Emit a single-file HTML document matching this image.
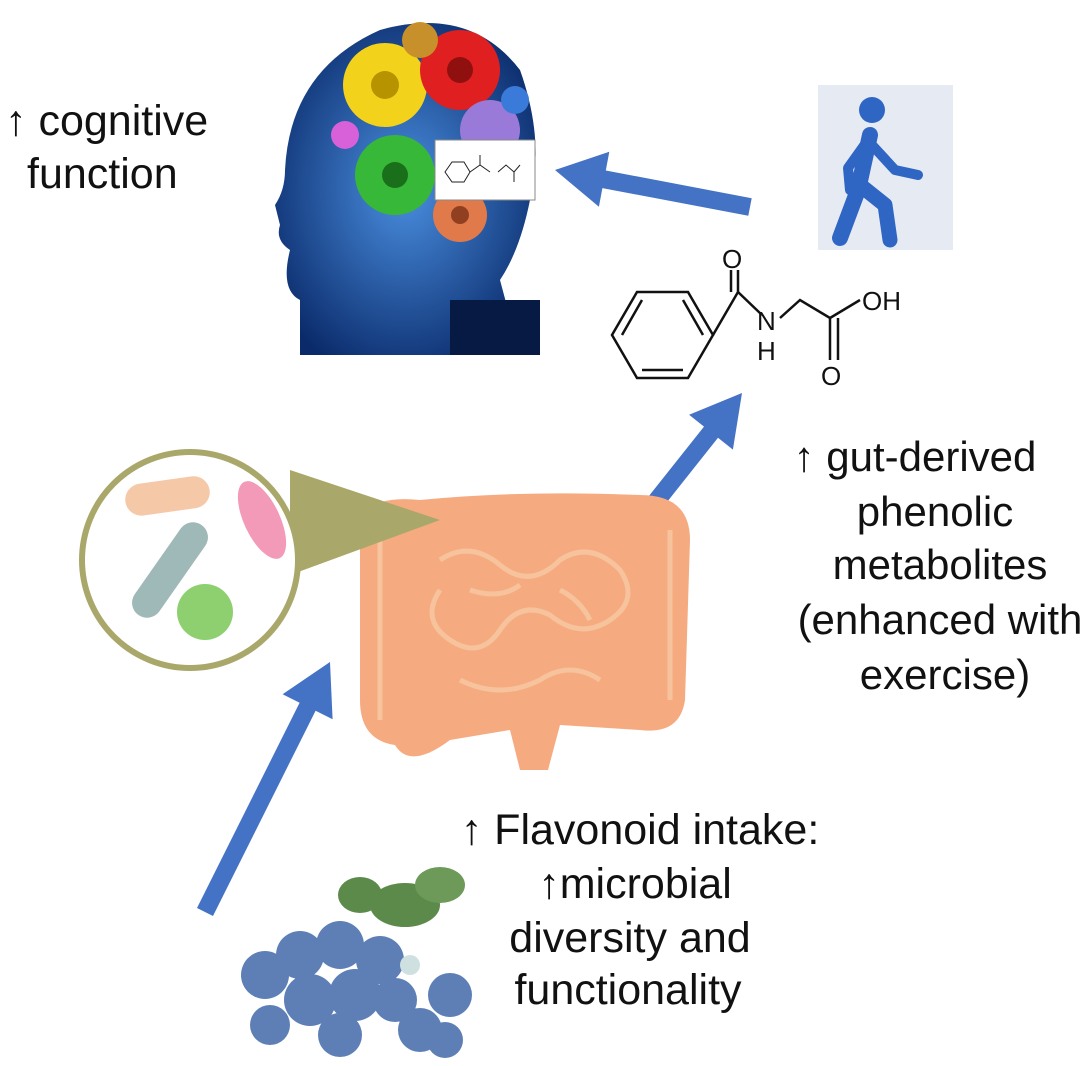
<!DOCTYPE html>
<html><head><meta charset="utf-8"><style>
html,body{margin:0;padding:0;background:#fff;}
svg{display:block;}
text{font-family:"Liberation Sans",sans-serif;}
</style></head><body>
<svg width="1080" height="1066" viewBox="0 0 1080 1066" xmlns="http://www.w3.org/2000/svg">
<defs>
<radialGradient id="hg" cx="0.5" cy="0.5" r="0.6"><stop offset="0" stop-color="#4a8fe0"/><stop offset="1" stop-color="#0a2a6a"/></radialGradient>
</defs>

<text x="5" y="135" font-size="43" fill="#111">↑ cognitive</text>
<text x="27" y="188" font-size="43" fill="#111">function</text>

<path d="M300,355 L300,300 Q280,290 290,250 Q275,240 280,225 L275,205 Q285,190 285,170 Q290,70 380,30 Q470,5 520,70 Q545,140 530,200 Q520,250 500,280 L520,355 Z" fill="url(#hg)"/>
<rect x="450" y="300" width="90" height="55" fill="#061a44"/>
<circle cx="385" cy="85" r="42" fill="#f2d21a"/><circle cx="385" cy="85" r="14" fill="#b89300"/>
<circle cx="460" cy="70" r="40" fill="#e02020"/><circle cx="460" cy="70" r="13" fill="#901010"/>
<circle cx="420" cy="40" r="18" fill="#c8902a"/>
<circle cx="490" cy="130" r="30" fill="#9a7ad8"/>
<circle cx="515" cy="100" r="14" fill="#3a7ad8"/>
<circle cx="345" cy="135" r="14" fill="#d860d8"/>
<circle cx="395" cy="175" r="40" fill="#38b838"/><circle cx="395" cy="175" r="13" fill="#1a701a"/>
<circle cx="460" cy="215" r="27" fill="#e07a4a"/><circle cx="460" cy="215" r="9" fill="#904020"/>
<rect x="435" y="140" width="100" height="60" fill="#fff" stroke="#888" stroke-width="1"/>
<g stroke="#222" stroke-width="1" fill="none"><polygon points="445,172 452,162 464,162 470,172 464,182 452,182"/><path d="M470,172 L480,165 L490,172 M480,165 L480,155 M498,172 L506,165 L514,172 M514,172 L520,165 M514,172 L514,182"/></g>

<rect x="818" y="85" width="135" height="165" fill="#e6ebf3"/>
<g fill="#2f66c4" stroke="#2f66c4" stroke-linecap="round" stroke-linejoin="round">
<circle cx="872" cy="110" r="13" stroke="none"/>
<path d="M870,135 L858,190 L840,238" stroke-width="16" fill="none"/>
<path d="M860,185 L885,205 L890,240" stroke-width="15" fill="none"/>
<path d="M868,140 L848,168 L850,190" stroke-width="10" fill="none"/>
<path d="M872,145 L895,170 L918,175" stroke-width="10" fill="none"/>
</g>

<g fill="#4472C4">
<polygon points="751.7,198.2 605.8,170.5 609.3,151.8 555,170 598.9,206.8 602.4,188.1 748.3,215.8"/>
<polygon points="607,577.6 718,437.8 732.9,449.6 742,393 689.1,414.8 704,426.6 593,566.4"/>
<polygon points="213,916 315.6,710.7 332.6,719.2 330,662 282.6,694.2 299.6,702.7 197,908"/>
</g>

<g stroke="#111" stroke-width="2.5" fill="none">
<polygon points="612,335 637,292 688,292 713,335 688,378 637,378"/>
<path d="M622,335 L642,300 M683,300 L703,335 M642,370 L683,370"/>
<path d="M713,335 L738,292 L762,315 M738,292 L738,270 M731,292 L731,270"/>
<path d="M780,318 L800,300 L830,318 L860,300 M830,318 L830,360 M838,318 L838,360"/>
</g>
<text x="722" y="268" font-size="26" fill="#111">O</text>
<text x="757" y="330" font-size="26" fill="#111">N</text>
<text x="757" y="360" font-size="26" fill="#111">H</text>
<text x="862" y="310" font-size="26" fill="#111">OH</text>
<text x="821" y="385" font-size="26" fill="#111">O</text>

<g font-size="42" fill="#111" text-anchor="middle">
<text x="915" y="471">↑ gut-derived</text>
<text x="935" y="526">phenolic</text>
<text x="940" y="579">metabolites</text>
<text x="940" y="634">(enhanced with</text>
<text x="945" y="689">exercise)</text>
</g>

<path d="M360,520 Q370,495 420,500 Q520,490 640,495 Q690,495 690,540 L685,700 Q680,735 640,730 L560,725 L548,770 L520,770 L510,730 L450,740 Q410,770 395,745 Q360,740 360,700 Z" fill="#f6aa80"/>
<g stroke="#f7c6a0" stroke-width="5" fill="none" opacity="0.9">
<path d="M440,560 Q470,540 500,565 Q530,590 560,560 Q590,540 620,570 Q640,600 610,620 Q580,640 550,615 Q520,600 500,630 Q480,660 450,640 Q420,620 440,590"/>
<path d="M470,590 Q500,600 520,585 M560,590 Q580,600 590,620 M460,680 Q500,700 540,680 Q570,660 600,680"/>
<path d="M380,530 L380,720 M670,530 L670,700"/>
</g>

<polygon points="290,470 440,520 290,575" fill="#a9a86a"/>
<circle cx="190" cy="560" r="108" fill="#fff" stroke="#a9a86a" stroke-width="6"/>
<rect x="125" y="480" width="85" height="32" rx="16" fill="#f5c8a8" transform="rotate(-8 167 496)"/>
<rect x="115" y="555" width="110" height="30" rx="15" fill="#9fb8b8" transform="rotate(-55 170 570)"/>
<ellipse cx="262" cy="520" rx="18" ry="42" fill="#f39ab8" transform="rotate(-25 262 520)"/>
<circle cx="205" cy="612" r="28" fill="#8ed070"/>

<g font-size="43" fill="#111" text-anchor="middle">
<text x="640" y="844">↑ Flavonoid intake:</text>
<text x="635" y="898">↑microbial</text>
<text x="630" y="952">diversity and</text>
<text x="628" y="1004">functionality</text>
</g>

<g>
<ellipse cx="405" cy="905" rx="35" ry="22" fill="#5b8a4a"/>
<ellipse cx="440" cy="885" rx="25" ry="18" fill="#6d9a58"/>
<ellipse cx="360" cy="895" rx="22" ry="18" fill="#5b8a4a"/>
<g fill="#5d7fb6">
<circle cx="265" cy="975" r="24"/><circle cx="300" cy="955" r="24"/><circle cx="340" cy="945" r="24"/>
<circle cx="380" cy="960" r="24"/><circle cx="310" cy="1000" r="26"/><circle cx="355" cy="995" r="26"/>
<circle cx="395" cy="1000" r="22"/><circle cx="270" cy="1025" r="20"/><circle cx="340" cy="1035" r="22"/>
<circle cx="420" cy="1030" r="22"/><circle cx="450" cy="995" r="22"/><circle cx="445" cy="1040" r="18"/>
</g>
<circle cx="410" cy="965" r="10" fill="#cfe0e0"/>
</g>
</svg>
</body></html>
